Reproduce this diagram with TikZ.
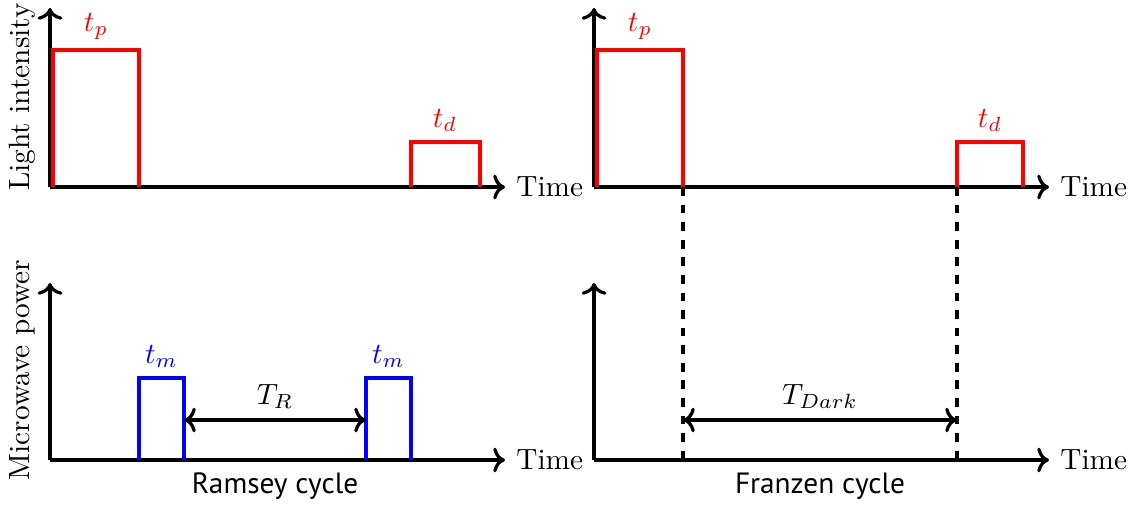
\documentclass[tikz,border=0pt]{standalone}
\usepackage{amsmath}
\usepackage{fontspec}
\newfontfamily\cyclefont{PT Sans}
\usetikzlibrary{positioning, calc, arrows.meta}

\tikzset{
    axis/.style={line width=1.1pt, ->},
    lightpulse/.style={line width=1.3pt, red},
    mwpulse/.style={line width=1.3pt, blue},
    span/.style={line width=1.1pt, <->},
    guide/.style={line width=1.1pt, dashed}
}

\begin{document}
\begin{tikzpicture}[x=0.012cm, y=-0.012cm]
    \useasboundingbox (0,0) rectangle (1136,507);

    % Axis origins
    \coordinate (oLL) at (50,187);
    \coordinate (oLR) at (594,187);
    \coordinate (oML) at (50,460);
    \coordinate (oMR) at (594,460);

    % Light intensity (Ramsey)
    \draw[axis] (oLL) -- ++(0,-179);
    \draw[axis] (oLL) -- ++(455,0) node[right] (timeLL) {Time};
    \node[rotate=90] (ylabL) at (22,97) {Light intensity};
    \draw[lightpulse] (53,187) -- (53,50) -- (139,50) -- (139,187);
    \node[red, above] (tpL) at (96,50) {$t_p$};
    \draw[lightpulse] (411,187) -- (411,142) -- (480,142) -- (480,187);
    \node[red, above] (tdL) at (445,142) {$t_d$};

    % Light intensity (Franzen)
    \draw[axis] (oLR) -- ++(0,-179);
    \draw[axis] (oLR) -- ++(455,0) node[right] (timeLR) {Time};
    \draw[lightpulse] (597,187) -- (597,50) -- (683,50) -- (683,187);
    \node[red, above] (tpR) at (640,50) {$t_p$};
    \draw[lightpulse] (957,187) -- (957,142) -- (1023,142) -- (1023,187);
    \node[red, above] (tdR) at (990,142) {$t_d$};

    % Microwave power (Ramsey)
    \draw[axis] (oML) -- ++(0,-177);
    \draw[axis] (oML) -- ++(455,0) node[right] (timeML) {Time};
    \node[rotate=90] (ylabM) at (22,370) {Microwave power};
    \draw[mwpulse] (139,460) -- (139,378) -- (184,378) -- (184,460);
    \node[blue, above] (tmA) at (161.5,378) {$t_m$};
    \draw[mwpulse] (366,460) -- (366,378) -- (411,378) -- (411,460);
    \node[blue, above] (tmB) at (388.5,378) {$t_m$};
    \coordinate (rA) at (184,420);
    \coordinate (rB) at (366,420);
    \draw[span] (rA) -- (rB) node[midway, above] (TR) {$T_R$};
    \node (ramsey) at (275,486) {\cyclefont Ramsey cycle};

    % Microwave power (Franzen)
    \draw[axis] (oMR) -- ++(0,-177);
    \draw[axis] (oMR) -- ++(455,0) node[right] (timeMR) {Time};
    \coordinate (dA) at (683,420);
    \coordinate (dB) at (957,420);
    \draw[guide] (683,187) -- (683,460);
    \draw[guide] (957,187) -- (957,460);
    \draw[span] (dA) -- (dB) node[midway, above] (TD) {$T_{Dark}$};
    \node (franzen) at (820,486) {\cyclefont Franzen cycle};
\end{tikzpicture}
\end{document}
